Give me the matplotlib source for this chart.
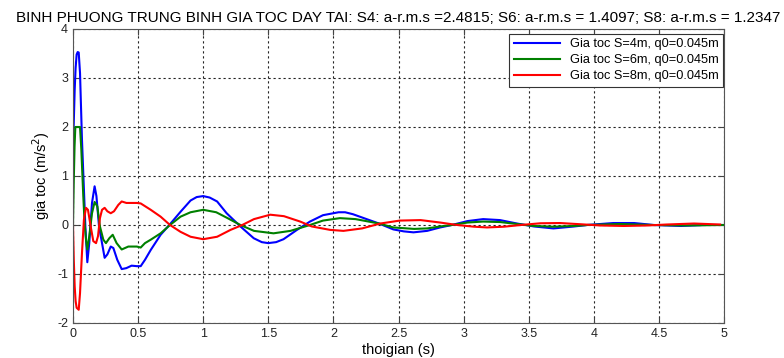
import matplotlib.pyplot as plt

plt.rcParams['font.family'] = ['Liberation Sans', 'DejaVu Sans']
plt.rcParams['axes.unicode_minus'] = False

# values (t in s, a in m/s^2)
t4 = [0.0, 0.005, 0.013, 0.02, 0.028, 0.036, 0.044, 0.054, 0.069, 0.084, 0.095,
      0.11, 0.125, 0.146, 0.166, 0.18, 0.2, 0.223, 0.243, 0.264, 0.29, 0.31,
      0.34, 0.374, 0.41, 0.45, 0.49, 0.52, 0.553, 0.597, 0.673, 0.745, 0.826,
      0.903, 0.95, 1.0, 1.05, 1.107, 1.18, 1.286, 1.388, 1.45, 1.5, 1.56, 1.617,
      1.72, 1.82, 1.92, 2.04, 2.09, 2.15, 2.255, 2.35, 2.46, 2.54, 2.615, 2.72,
      2.82, 2.91, 3.03, 3.15, 3.28, 3.41, 3.54, 3.69, 3.85, 3.95, 4.15, 4.31,
      4.46, 4.67, 4.85, 5.0]
a4 = [1.5, 2.0, 2.76, 3.2, 3.48, 3.53, 3.52, 3.1, 1.74, 0.72, -0.03,
      -0.76, -0.37, 0.45, 0.79, 0.59, -0.03, -0.37, -0.67, -0.6, -0.44, -0.47,
      -0.71, -0.9, -0.88, -0.83, -0.84, -0.84, -0.71, -0.51, -0.2, 0.016, 0.27,
      0.5, 0.57, 0.59, 0.56, 0.48, 0.24, -0.03, -0.27, -0.35, -0.37, -0.35, -0.29,
      -0.1, 0.07, 0.2, 0.26, 0.26, 0.22, 0.12, 0.03, -0.09, -0.13, -0.15, -0.12,
      -0.05, 0.0, 0.08, 0.12, 0.1, 0.03, -0.03, -0.07, -0.03, 0.0, 0.04, 0.04,
      0.0, -0.02, 0.0, 0.0]

t6 = [0.0, 0.006, 0.012, 0.018, 0.023, 0.054, 0.064, 0.079, 0.09, 0.1, 0.11,
      0.125, 0.146, 0.166, 0.187, 0.207, 0.233, 0.253, 0.279, 0.305, 0.335,
      0.374, 0.425, 0.49, 0.52, 0.553, 0.597, 0.673, 0.745, 0.826, 0.903,
      1.0, 1.1, 1.18, 1.286, 1.39, 1.54, 1.67, 1.82, 1.92, 2.05, 2.17, 2.35,
      2.46, 2.62, 2.72, 2.82, 2.91, 3.03, 3.15, 3.28, 3.41, 3.54, 3.69, 3.85,
      3.95, 4.2, 4.45, 4.7, 5.0]
a6 = [0.0, 0.9, 1.6, 2.0, 2.0, 2.0, 1.54, 0.59, 0.0, -0.3, -0.5,
      -0.23, 0.24, 0.47, 0.38, -0.03, -0.3, -0.37, -0.27, -0.2, -0.37,
      -0.5, -0.44, -0.44, -0.46, -0.37, -0.3, -0.17, 0.0, 0.17, 0.26,
      0.31, 0.26, 0.15, 0.0, -0.12, -0.17, -0.12, 0.0, 0.09, 0.14, 0.12, 0.03,
      -0.05, -0.08, -0.07, -0.03, 0.0, 0.05, 0.07, 0.06, 0.02, -0.02, -0.035, -0.02,
      0.0, 0.02, 0.0, -0.01, 0.0]

t8 = [0.0, 0.006, 0.013, 0.02, 0.028, 0.044, 0.054, 0.069, 0.084, 0.1, 0.115,
      0.136, 0.156, 0.177, 0.192, 0.207, 0.223, 0.243, 0.264, 0.29, 0.315,
      0.348, 0.374, 0.41, 0.49, 0.52, 0.597, 0.673, 0.745, 0.826, 0.903,
      1.0, 1.107, 1.21, 1.3, 1.39, 1.515, 1.62, 1.745, 1.834, 1.975, 2.077,
      2.22, 2.36, 2.51, 2.67, 2.82, 2.95, 3.08, 3.18, 3.31, 3.44, 3.59, 3.74,
      3.9, 4.05, 4.23, 4.41, 4.56, 4.77, 4.97]
a8 = [0.0, -0.7, -1.25, -1.55, -1.69, -1.73, -1.39, -0.57, 0.11, 0.35, 0.31,
      -0.03, -0.33, -0.37, -0.23, 0.14, 0.31, 0.35, 0.28, 0.24, 0.28,
      0.41, 0.48, 0.45, 0.45, 0.44, 0.31, 0.17, 0.0, -0.14, -0.24,
      -0.29, -0.24, -0.1, 0.0, 0.12, 0.21, 0.18, 0.07, -0.03, -0.1, -0.12,
      -0.07, 0.03, 0.09, 0.1, 0.05, 0.0, -0.035, -0.05, -0.035, 0.0, 0.035, 0.04,
      0.015, -0.01, -0.02, -0.01, 0.01, 0.03, 0.01]

series = [
    (t4, a4, 'blue', 'Gia toc S=4m, q0=0.045m'),
    (t6, a6, 'green', 'Gia toc S=6m, q0=0.045m'),
    (t8, a8, 'red', 'Gia toc S=8m, q0=0.045m'),
]

fig = plt.figure(figsize=(7.84, 3.58), dpi=100)
ax = fig.add_axes([0.0931, 0.0978, 0.8304, 0.8212])

for t, a, c, lab in series:
    ax.plot(t, a, color=c, linewidth=1.5, label=lab)

ax.set_xlim(0, 5)
ax.set_ylim(-2, 4)
ax.set_xticks([0, 0.5, 1, 1.5, 2, 2.5, 3, 3.5, 4, 4.5, 5])
ax.set_xticklabels(['0', '0.5', '1', '1.5', '2', '2.5', '3', '3.5', '4', '4.5', '5'])
ax.set_yticks([-2, -1, 0, 1, 2, 3, 4])
ax.grid(True, color='#222222', linestyle=(0, (2, 2.5)), linewidth=0.8)
ax.tick_params(direction='in', top=True, right=True, labelsize=9, colors='#444444',
               labelcolor='#222222', length=4)
for s in ax.spines.values():
    s.set_color('#555555')

ax.set_xlabel('thoigian (s)', fontsize=10.5, labelpad=2)
ax.set_ylabel('gia toc (m/s$^2$)', fontsize=10.5, labelpad=4)
ax.set_title('BINH PHUONG TRUNG BINH GIA TOC DAY TAI: S4: a-r.m.s =2.4815; '
             'S6: a-r.m.s = 1.4097; S8: a-r.m.s = 1.2347', fontsize=11, pad=5)

leg = ax.legend(loc='upper right', fontsize=9.2, fancybox=False, framealpha=1,
                edgecolor='#333333', handlelength=3.6, borderpad=0.35,
                labelspacing=0.3, borderaxespad=0, bbox_to_anchor=(0.9985, 0.983))
leg.get_frame().set_linewidth(0.8)

fig.savefig('out.png', dpi=100)
